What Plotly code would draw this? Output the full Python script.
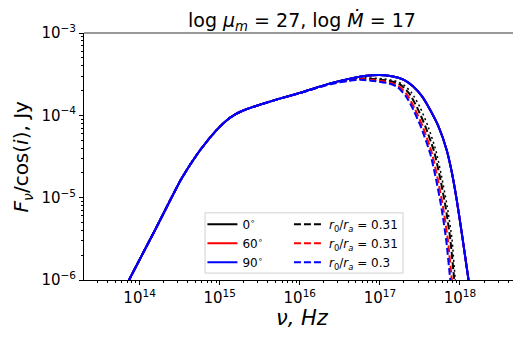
import plotly.graph_objects as go

# ---- data (log10 values) ----
rise_lognu = [13.80, 13.868, 14.2, 14.526, 14.75, 14.963, 15.1, 15.2, 15.3, 15.4, 15.5, 15.75]
rise_logF = [-6.13, -6.0, -5.38, -4.764, -4.43, -4.176, -4.05, -3.985, -3.938, -3.903, -3.872, -3.797]

solid_lognu = [16.0, 16.38, 16.6, 16.83, 17.0, 17.167, 17.3, 17.417, 17.527, 17.627,
               17.734, 17.834, 17.90, 17.96, 18.03, 18.104, 18.13]
solid_logF = [-3.727, -3.612, -3.56, -3.52, -3.510, -3.528, -3.570, -3.650, -3.77, -3.933,
              -4.14, -4.42, -4.70, -5.03, -5.48, -5.98, -6.15]

dash_blue_lognu = [16.0, 16.38, 16.6, 16.752, 16.95, 17.1, 17.21, 17.32, 17.417, 17.52,
                   17.627, 17.70, 17.77, 17.83, 17.877, 17.90]
dash_blue_logF = [-3.731, -3.622, -3.583, -3.568, -3.585, -3.61, -3.65, -3.76, -3.93, -4.16,
                  -4.46, -4.77, -5.13, -5.53, -5.98, -6.15]

dash_red_lognu = [16.0, 16.38, 16.6, 16.77, 16.97, 17.12, 17.23, 17.34, 17.437, 17.54,
                  17.647, 17.72, 17.79, 17.85, 17.897, 17.92]
dash_red_logF = [-3.730, -3.618, -3.576, -3.560, -3.577, -3.60, -3.64, -3.75, -3.92, -4.15,
                 -4.45, -4.76, -5.12, -5.52, -5.98, -6.15]

dash_black_lognu = [16.0, 16.38, 16.6, 16.80, 17.0, 17.15, 17.26, 17.37, 17.467, 17.57,
                    17.677, 17.75, 17.82, 17.88, 17.927, 17.95]
dash_black_logF = [-3.729, -3.615, -3.568, -3.552, -3.567, -3.59, -3.63, -3.74, -3.91, -4.14,
                   -4.44, -4.75, -5.11, -5.51, -5.98, -6.15]

dot_black_lognu = [16.38, 16.6, 16.83, 17.03, 17.18, 17.29, 17.40, 17.50, 17.60, 17.70,
                   17.77, 17.84, 17.90, 17.94, 17.96]
dot_black_logF = [-3.613, -3.563, -3.545, -3.555, -3.58, -3.625, -3.73, -3.90, -4.13, -4.43,
                  -4.74, -5.10, -5.50, -5.98, -6.15]

angle_labels = ["0<sup>∘</sup>", "60<sup>∘</sup>", "90<sup>∘</sup>"]
ratio_labels = ["0.31", "0.31", "0.3"]
colors = ["black", "red", "blue"]

y_tick_exp = [-6, -5, -4, -3]
x_tick_exp = [14, 15, 16, 17, 18]


def to_lin(vals):
    return [10 ** v for v in vals]


fig = go.Figure()

solid_x = to_lin(rise_lognu + solid_lognu)
solid_y = to_lin(rise_logF + solid_logF)

dashed = [
    (dash_black_lognu, dash_black_logF),
    (dash_red_lognu, dash_red_logF),
    (dash_blue_lognu, dash_blue_logF),
]

font = "DejaVu Sans"
for i, c in enumerate(colors):
    fig.add_trace(go.Scatter(
        x=solid_x, y=solid_y, mode="lines", name=angle_labels[i],
        line=dict(color=c, width=2, shape="spline", smoothing=0.6),
        legend="legend", legendrank=i))
    dx, dy = dashed[i]
    fig.add_trace(go.Scatter(
        x=to_lin(rise_lognu + dx), y=to_lin(rise_logF + dy), mode="lines",
        name="<i>r</i><sub>0</sub>/<i>r</i><sub><i>a</i></sub> = " + ratio_labels[i],
        line=dict(color=c, width=2, dash="7px,3px", shape="spline", smoothing=0.6),
        legend="legend2", legendrank=i))
    if i == 0:
        fig.add_trace(go.Scatter(
            x=to_lin(dot_black_lognu), y=to_lin(dot_black_logF), mode="lines",
            line=dict(color="black", width=1.5, dash="2px,3px", shape="spline", smoothing=0.6),
            showlegend=False))

# redraw blue solid on top
fig.add_trace(go.Scatter(x=solid_x, y=solid_y, mode="lines",
                         line=dict(color="blue", width=2, shape="spline", smoothing=0.6),
                         showlegend=False))

minor_x = [m * 10 ** e for e in range(13, 19) for m in range(2, 10)]
minor_y = [m * 10 ** e for e in range(-7, -3) for m in range(2, 10)]

fig.update_xaxes(
    type="log", range=[13.306, 18.762],
    tickvals=[10 ** e for e in x_tick_exp],
    ticktext=["10<sup>%d</sup>" % e for e in x_tick_exp],
    ticks="outside", ticklen=4, tickcolor="black", tickwidth=1,
    minor=dict(tickvals=minor_x, ticks="outside", ticklen=2, tickcolor="black", tickwidth=0.8),
    showline=True, linecolor="black", linewidth=1, showgrid=False, zeroline=False,
    tickfont=dict(family=font, size=15, color="black"),
)
fig.update_yaxes(
    type="log", range=[-6, -3],
    tickvals=[10 ** e for e in y_tick_exp],
    ticktext=["10<sup>−%d</sup>" % (-e) for e in y_tick_exp],
    ticks="outside", ticklen=4, tickcolor="black", tickwidth=1,
    minor=dict(tickvals=minor_y, ticks="outside", ticklen=2, tickcolor="black", tickwidth=0.8),
    showline=True, linecolor="black", linewidth=1, showgrid=False, zeroline=False,
    tickfont=dict(family=font, size=15, color="black"),
)

legend_common = dict(bgcolor="rgba(0,0,0,0)", borderwidth=0, itemwidth=30,
                     font=dict(family=font, size=12, color="black"),
                     xanchor="left", yanchor="top", tracegroupgap=0)

# page body has an 8px margin, so the figure is offset accordingly
fig.update_layout(
    width=513, height=329,
    margin=dict(l=76, r=0, t=25, b=57),
    paper_bgcolor="white", plot_bgcolor="white",
    title=dict(text="log <i>μ</i><sub><i>m</i></sub> = 27, log <i>Ṁ</i> = 17",
               x=0.573, xanchor="center", y=0.962, yanchor="middle",
               font=dict(family=font, size=19, color="black")),
    legend=dict(x=0.271, y=0.284, **legend_common),
    legend2=dict(x=0.469, y=0.284, **legend_common),
    shapes=[
        dict(type="rect", xref="paper", yref="paper", x0=0.277, x1=0.730, y0=0.028, y1=0.272,
             line=dict(color="#d0d0d0", width=1), fillcolor="rgba(255,255,255,0.8)", layer="below"),
        dict(type="line", xref="paper", yref="paper", x0=0, x1=1, y0=1, y1=1,
             line=dict(color="#777777", width=1.6)),
    ],
    annotations=[
        dict(text="<i>ν, Hz</i>", xref="paper", yref="paper", x=0.5, y=-0.154,
             xanchor="center", yanchor="middle", showarrow=False,
             font=dict(family=font, size=21, color="black")),
        dict(text="<i>F</i><sub><i>ν</i></sub>/cos(<i>i</i>), Jy", xref="paper", yref="paper",
             x=-0.142, y=0.5, xanchor="center", yanchor="middle", textangle=-90, showarrow=False,
             font=dict(family=font, size=20, color="black")),
    ],
)

fig.write_html("out.html")
